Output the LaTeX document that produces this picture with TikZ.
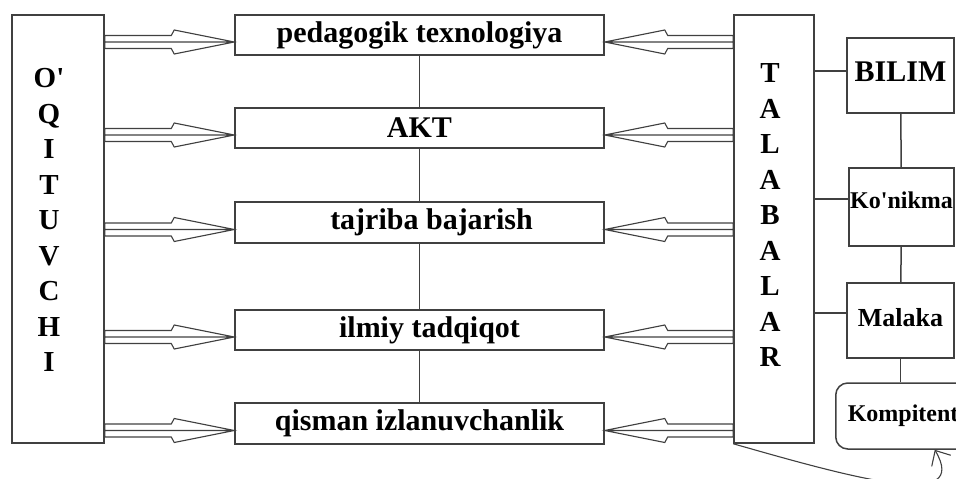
\documentclass[tikz,border=0pt]{standalone}
\usepackage{fontspec}
\newfontfamily\tnr{Liberation Serif}
\usetikzlibrary{arrows.meta, calc}

\begin{document}
\begin{tikzpicture}[
  x=1pt, y=-1pt,
  box/.style={draw=black!75, line width=1.5pt, inner sep=0pt,
              minimum width=369pt, minimum height=40pt,
              font=\tnr\bfseries\fontsize{30}{31}\selectfont},
  side/.style={draw=black!75, line width=1.5pt, inner sep=0pt,
               minimum width=#1, minimum height=428pt},
  col/.style={align=center, inner sep=0pt,
              font=\tnr\bfseries\fontsize{29}{35.5}\selectfont},
  res/.style={draw=black!75, line width=1.5pt, inner sep=0pt,
              minimum width=107pt, minimum height=75pt,
              font=\tnr\bfseries\fontsize{#1}{#1}\selectfont},
  link/.style={draw=black!75, line width=1.5pt},
  hollow/.style={draw=black!75, line width=1.1pt, to path={
    let \p1=(\tikztostart), \p2=(\tikztotarget), \n1={sign(\x2-\x1)} in
    (\p1) -- (\p2)
    (\x1,{\y1+6.5pt}) -- ({\x2-63pt*\n1},{\y1+6.5pt}) -- ({\x2-60pt*\n1},{\y1+12pt})
    -- (\p2) -- ({\x2-60pt*\n1},{\y1-12pt}) -- ({\x2-63pt*\n1},{\y1-6.5pt})
    -- (\x1,{\y1-6.5pt}) -- cycle}},
  curl/.style={draw=black!75, line width=1.1pt, -{Straight Barb[length=12pt, width=22pt]}}
]
  \useasboundingbox (0,0) rectangle (956,479);
  \clip (0,0) rectangle (956,479);

  \node[side=92pt] (oq) at (58,229) {};
  \node[col] (oqt) at (49,220) {O'\\Q\\I\\T\\U\\V\\C\\H\\I};
  \node[box] (ped) at (419.5,35) {pedagogik texnologiya};
  \node[box] (akt) at (419.5,128) {AKT};
  \node[box, minimum height=41pt] (taj) at (419.5,222.5) {\hspace*{24pt}tajriba bajarish};
  \node[box] (ilm) at (419.5,330) {\hspace*{20pt}ilmiy tadqiqot};
  \node[box, minimum height=41pt] (qis) at (419.5,423.5) {qisman izlanuvchanlik};
  \node[side=80pt] (tal) at (774,229) {};
  \node[col] (talt) at (770,215.5) {T\\A\\L\\A\\B\\A\\L\\A\\R};
  \node[res=30, text depth=7pt] (bil) at (900.5,75.5) {BILIM};
  \node[res=24, text depth=14pt, minimum width=105pt, minimum height=78pt] (kon) at (901.5,207) {Ko'nikma};
  \node[res=26, text depth=6pt] (mal) at (900.5,320.5) {Malaka};
  \node[res=24, rounded corners=12pt, anchor=west, minimum height=66pt,
        text width=120pt, inner xsep=12pt] (kom) at (835,416) {Kompitent};

  % teacher side
  \draw[hollow] ([yshift=-7pt]ped.west -| oq.east) to ([yshift=-7pt]ped.west);
  \draw[hollow] ([yshift=-7pt]akt.west -| oq.east) to ([yshift=-7pt]akt.west);
  \draw[hollow] ([yshift=-7pt]taj.west -| oq.east) to ([yshift=-7pt]taj.west);
  \draw[hollow] ([yshift=-7pt]ilm.west -| oq.east) to ([yshift=-7pt]ilm.west);
  \draw[hollow] ([yshift=-7pt]qis.west -| oq.east) to ([yshift=-7pt]qis.west);

  % student side
  \draw[hollow] ([yshift=-7pt]ped.east -| tal.west) to ([yshift=-7pt]ped.east);
  \draw[hollow] ([yshift=-7pt]akt.east -| tal.west) to ([yshift=-7pt]akt.east);
  \draw[hollow] ([yshift=-7pt]taj.east -| tal.west) to ([yshift=-7pt]taj.east);
  \draw[hollow] ([yshift=-7pt]ilm.east -| tal.west) to ([yshift=-7pt]ilm.east);
  \draw[hollow] ([yshift=-7pt]qis.east -| tal.west) to ([yshift=-7pt]qis.east);

  \draw[link] (ped) -- (akt);
  \draw[link] (akt) -- (taj);
  \draw[link] (taj) -- (ilm);
  \draw[link] (ilm) -- (qis);

  \draw[link] ([yshift=4.5pt]bil.west) -- ([yshift=4.5pt]bil.west -| tal.east);
  \draw[link] ([yshift=8pt]kon.west) -- ([yshift=8pt]kon.west -| tal.east);
  \draw[link] ([yshift=7.5pt]mal.west) -- ([yshift=7.5pt]mal.west -| tal.east);
  \draw[link] (bil) -- (kon);
  \draw[link] (kon) -- (mal);
  \draw[link] (mal.south) -- (mal.south |- kom.north);

  \draw[curl] (tal.south west) .. controls (860,480) and (970,510) .. ([xshift=27pt]kom.south);
\end{tikzpicture}
\end{document}
